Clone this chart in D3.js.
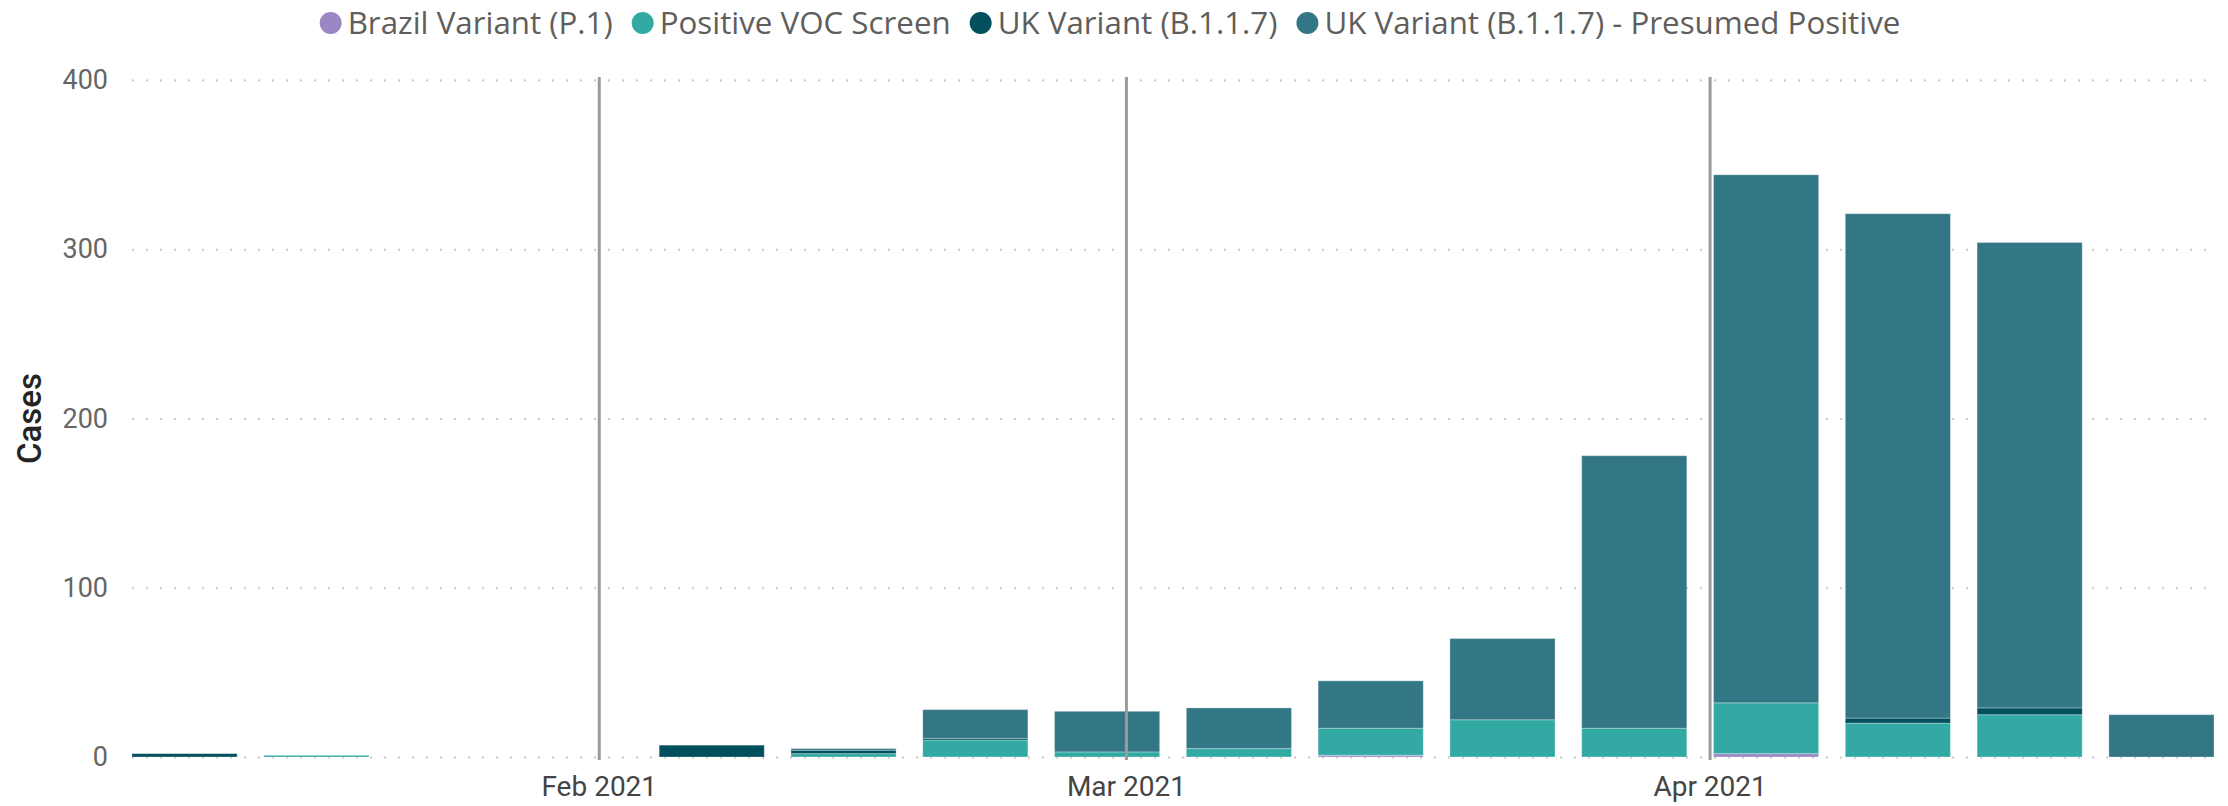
<!DOCTYPE html>
<html>
<head>
<meta charset="utf-8">
<script src="https://cdn.jsdelivr.net/npm/d3@7"></script>
<style>
  body { margin: 0; background: #fff; }
  #svg1 { display: block; }
  .ytick text { font-family: Roboto, sans-serif; font-size: 27px; fill: #666666; }
  .xtick text { font-family: Roboto, sans-serif; font-size: 28px; fill: #444444; }
  .legend text { font-family: "Segoe UI", "Open Sans", sans-serif; font-size: 31.3px; fill: #605E5C; }
</style>
</head>
<body>
<svg id="svg1" width="2228" height="806"></svg>
<script>
// weekly data (week starting Sunday)
var weeks = ["2021-01-10", "2021-01-17", "2021-02-07", "2021-02-14", "2021-02-21", "2021-02-28", "2021-03-07",
             "2021-03-14", "2021-03-21", "2021-03-28", "2021-04-04", "2021-04-11", "2021-04-18", "2021-04-25"];
var brazil    = [0, 0, 0, 0, 0,  0,  0,  1,  0,   0,   2,   0,   0,  0];
var vocScreen = [0, 1, 0, 2, 10, 3,  5,  16, 22,  17,  30,  20,  25, 0];
var ukVariant = [2, 0, 7, 2, 1,  0,  0,  0,  0,   0,   0,   3,   4,  0];
var ukPresumed = [0, 0, 0, 1, 17, 24, 24, 28, 48, 161, 312, 298, 275, 25];

var seriesNames = ["Brazil Variant (P.1)", "Positive VOC Screen", "UK Variant (B.1.1.7)", "UK Variant (B.1.1.7) - Presumed Positive"];
var seriesColors = ["#9A88C4", "#33A9A4", "#02505E", "#337685"];
var yTicks = [0, 100, 200, 300, 400];
var monthLines = ["2021-02-01", "2021-03-01", "2021-04-01"];

var width = 2228;
var height = 806;
var marginLeft = 132, marginRight = 14, marginTop = 80, marginBottom = 49;

var svg = d3.select("#svg1");
var parser = d3.timeParse("%Y-%m-%d");

var keys = ["brazil", "voc", "uk", "presumed"];
var dataIn = weeks.map(function(w, i) {
  return { date: parser(w), brazil: brazil[i], voc: vocScreen[i], uk: ukVariant[i], presumed: ukPresumed[i] };
});

// half a bar, in hours
var halfBar = 67;

var scaleX = d3.scaleTime()
    .domain([d3.timeHour.offset(dataIn[0].date, -halfBar), d3.timeHour.offset(dataIn[dataIn.length - 1].date, halfBar)])
    .range([marginLeft, width - marginRight]);

var scaleY = d3.scaleLinear()
    .domain([0, 400])
    .range([height - marginBottom, marginTop]);

// dotted gridlines + y labels
var yAxis = svg.append("g")
    .attr("class", "ytick")
    .attr("transform", "translate(" + marginLeft + ",0)")
    .call(d3.axisLeft(scaleY).tickValues(yTicks).tickSize(-(width - marginLeft - marginRight)).tickPadding(24));

yAxis.select(".domain").remove();
yAxis.selectAll(".tick line")
    .attr("stroke", "#c8c8c8")
    .attr("stroke-width", 2)
    .attr("stroke-dasharray", "2,12");

svg.append("text")
    .attr("transform", "translate(41," + ((marginTop + height - marginBottom) / 2) + ") rotate(-90)")
    .attr("text-anchor", "middle")
    .style("font-family", "Roboto, sans-serif")
    .style("font-size", "33px")
    .style("font-weight", 500)
    .style("fill", "#252423")
    .text("Cases");

// stacked bars
var stack = d3.stack().keys(keys);
var layers = stack(dataIn);

svg.selectAll(".layer")
    .data(layers)
    .enter()
    .append("g")
      .attr("class", "layer")
      .attr("fill", function(d, i) { return seriesColors[i]; })
    .selectAll("rect")
    .data(function(d) { return d; })
    .enter()
    .append("rect")
      .attr("x", function(d) { return scaleX(d3.timeHour.offset(d.data.date, -halfBar)); })
      .attr("width", function(d) { return scaleX(d3.timeHour.offset(d.data.date, halfBar)) - scaleX(d3.timeHour.offset(d.data.date, -halfBar)); })
      .attr("y", function(d) { return scaleY(d[1]); })
      .attr("height", function(d) { return scaleY(d[0]) - scaleY(d[1]); })
      .attr("stroke", "#ffffff")
      .attr("stroke-opacity", function(d) { return d[1] > d[0] ? 0.3 : 0; })
      .attr("stroke-width", 1);

// month lines on top of the bars, with x labels
var xAxis = svg.append("g")
    .attr("class", "xtick")
    .attr("transform", "translate(0," + (height - marginBottom + 3) + ")")
    .call(d3.axisBottom(scaleX).tickValues(monthLines.map(parser)).tickFormat(d3.timeFormat("%b %Y"))
          .tickSize(-(height - marginBottom + 3 - marginTop + 3)).tickPadding(16));

xAxis.select(".domain").remove();
xAxis.selectAll(".tick line")
    .attr("stroke", "#9b9b9b")
    .attr("stroke-width", 3);

// legend
var legend = svg.append("g").attr("class", "legend");
var posX = 0;
seriesNames.forEach(function(name, i) {
  legend.append("circle")
      .attr("cx", posX + 11)
      .attr("cy", 23)
      .attr("r", 11)
      .attr("fill", seriesColors[i]);
  var t = legend.append("text")
      .attr("x", posX + 28)
      .attr("y", 34)
      .text(name);
  posX = posX + 28 + t.node().getComputedTextLength() + 19;
});
var legendWidth = posX - 19;
legend.attr("transform", "translate(" + (width / 2 - 4 - legendWidth / 2) + ",0)");
</script>
</body>
</html>
